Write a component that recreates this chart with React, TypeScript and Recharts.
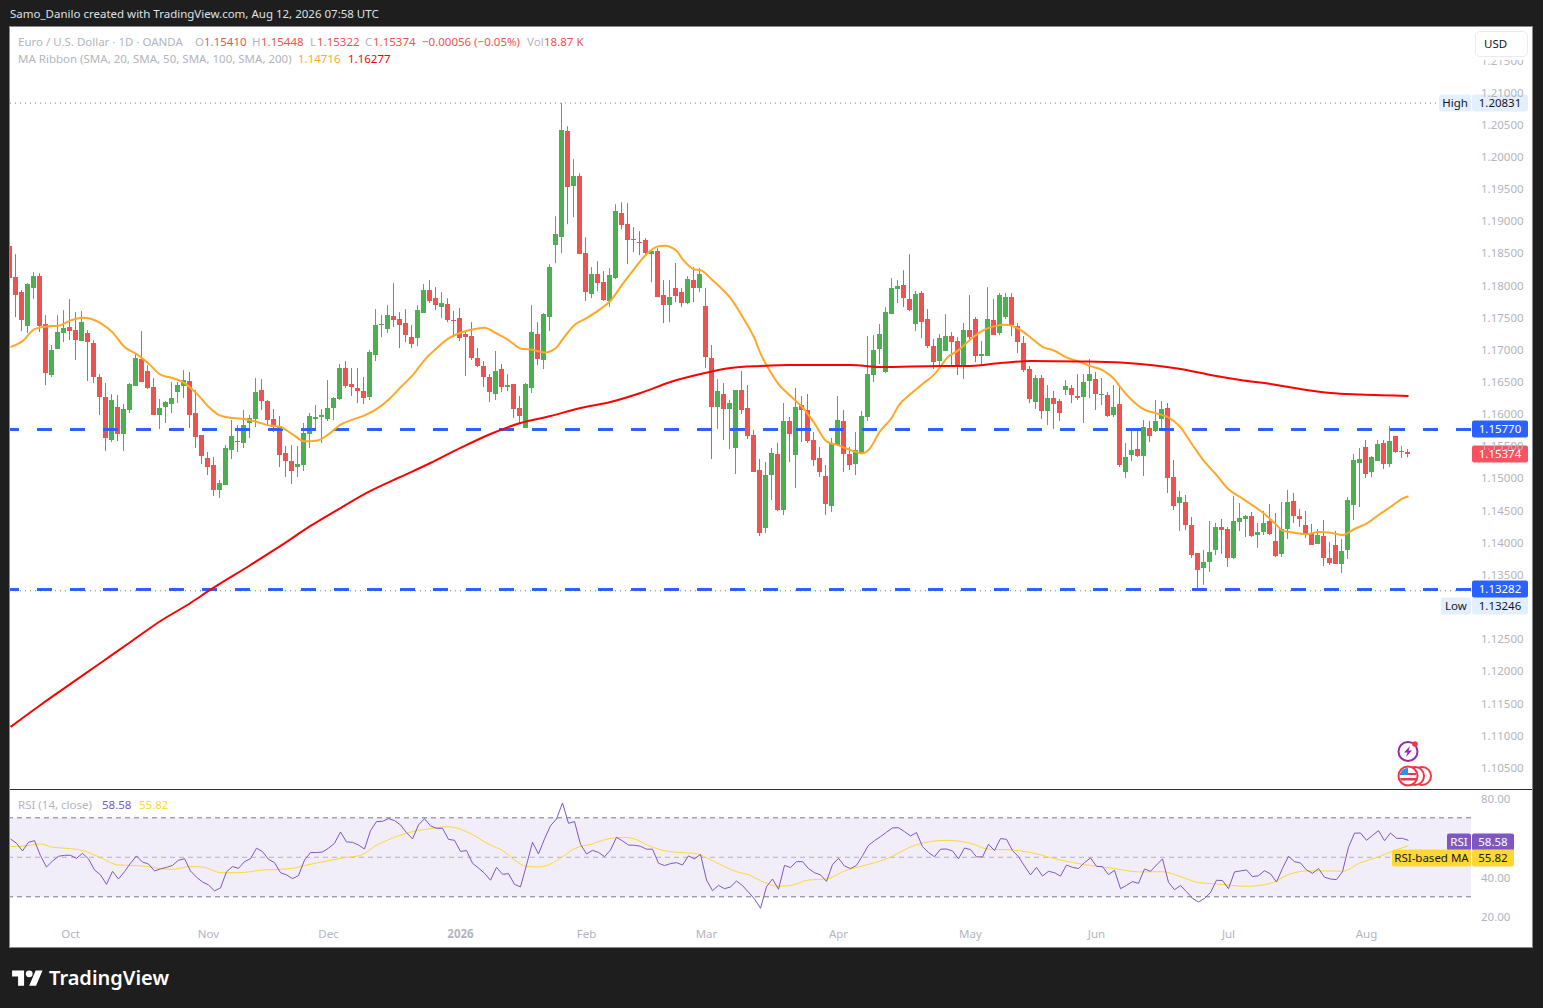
import React from "react";
import { Bar, ComposedChart, Line, ReferenceArea, ReferenceLine, XAxis, YAxis } from "recharts";

const opens = [
  1.18605, 1.18124, 1.1789, 1.17362, 1.17953, 1.18139, 1.17393, 1.16601, 1.17005, 1.17253,
  1.17347, 1.173, 1.17129, 1.17253, 1.17098, 1.1657, 1.16259, 1.15591, 1.16103, 1.15684,
  1.16057, 1.1643, 1.16849, 1.16663, 1.16414, 1.15979, 1.16103, 1.1615, 1.16336, 1.1643,
  1.16507, 1.1601, 1.15668, 1.15311, 1.15202, 1.14814, 1.14891, 1.15435, 1.15575, 1.15544,
  1.15855, 1.15917, 1.16368, 1.16197, 1.15917, 1.15808, 1.15389, 1.15264, 1.15171, 1.15202,
  1.15684, 1.15917, 1.15948, 1.15917, 1.16088, 1.16228, 1.16709, 1.16461, 1.16399, 1.16352,
  1.16259, 1.16911, 1.17378, 1.17315, 1.17517, 1.17471, 1.17409, 1.17191, 1.17176, 1.17564,
  1.17922, 1.17797, 1.17657, 1.17704, 1.17455, 1.17486, 1.17238, 1.17207, 1.16865, 1.1674,
  1.1657, 1.16305, 1.16694, 1.16414, 1.16461, 1.16088, 1.15777, 1.16399, 1.17238, 1.16834,
  1.17502, 1.18621, 1.18745, 1.20392, 1.19538, 1.19693, 1.18497, 1.17859, 1.1817, 1.18046,
  1.17751, 1.18108, 1.19118, 1.18947, 1.18714, 1.18667, 1.18699, 1.18481, 1.18528, 1.17844,
  1.17688, 1.17953, 1.1789, 1.1772, 1.18077, 1.17953, 1.17673, 1.16865, 1.16103, 1.16305,
  1.16072, 1.15466, 1.16368, 1.16088, 1.15668, 1.15124, 1.14223, 1.15047, 1.15373, 1.14503,
  1.15886, 1.15357, 1.16134, 1.16057, 1.15591, 1.15311, 1.15031, 1.14565, 1.15513, 1.15886,
  1.15373, 1.15218, 1.15389, 1.15948, 1.16601, 1.17005, 1.16647, 1.17549, 1.17937, 1.17999,
  1.17782, 1.17393, 1.17875, 1.17471, 1.17051, 1.16818, 1.16974, 1.17207, 1.17129, 1.16756,
  1.173, 1.17471, 1.16896, 1.16896, 1.17455, 1.17253, 1.17502, 1.17813, 1.17362, 1.17098,
  1.16694, 1.16181, 1.16554, 1.16041, 1.16243, 1.16197, 1.16368, 1.16399, 1.16274, 1.16259,
  1.16507, 1.16538, 1.1629, 1.1629, 1.15979, 1.1615, 1.15093, 1.15357, 1.15451, 1.15342,
  1.15777, 1.1573, 1.15917, 1.16088, 1.15016, 1.14611, 1.14627, 1.1427, 1.13834, 1.13601,
  1.13695, 1.13881, 1.14239, 1.14207, 1.13757, 1.14316, 1.14363, 1.14409, 1.14114, 1.14161,
  1.14332, 1.14021, 1.13819, 1.14207, 1.14643, 1.14409, 1.1427, 1.14145, 1.13974, 1.14099,
  1.13757, 1.13959, 1.13664, 1.13881, 1.1458, 1.15233, 1.15482, 1.15093, 1.15264, 1.15544,
  1.15218, 1.15653, 1.15404, 1.1541,
];

const highs = [
  1.1918, 1.18481, 1.17922, 1.1803, 1.18201, 1.18186, 1.17533, 1.17067, 1.17533, 1.17611,
  1.17782, 1.1758, 1.17595, 1.173, 1.17145, 1.16616, 1.16476, 1.16305, 1.1629, 1.1615,
  1.16476, 1.16943, 1.17284, 1.16756, 1.16554, 1.16228, 1.16197, 1.16492, 1.16492, 1.16678,
  1.16647, 1.16368, 1.15668, 1.15404, 1.15326, 1.14969, 1.15513, 1.15901, 1.15824, 1.16057,
  1.15979, 1.16554, 1.16538, 1.16212, 1.16072, 1.15963, 1.15497, 1.15513, 1.15497, 1.15855,
  1.1601, 1.16134, 1.16072, 1.16523, 1.16259, 1.16772, 1.16818, 1.16709, 1.16709, 1.1657,
  1.16989, 1.17626, 1.17533, 1.17688, 1.1803, 1.1758, 1.17626, 1.17378, 1.17688, 1.18015,
  1.18077, 1.17968, 1.1789, 1.17797, 1.17595, 1.17642, 1.17284, 1.17424, 1.1702, 1.16818,
  1.16616, 1.16974, 1.16772, 1.16616, 1.16461, 1.16274, 1.16476, 1.17688, 1.17424, 1.17564,
  1.18326, 1.19071, 1.20831, 1.2047, 1.19957, 1.1974, 1.18745, 1.18279, 1.18372, 1.18217,
  1.18263, 1.19258, 1.19289, 1.19274, 1.18901, 1.18838, 1.1873, 1.18543, 1.18574, 1.18077,
  1.18077, 1.18341, 1.17953, 1.18139, 1.18279, 1.18263, 1.17953, 1.17067, 1.16538, 1.16476,
  1.16212, 1.16368, 1.16663, 1.16445, 1.15746, 1.15295, 1.15249, 1.15466, 1.15544, 1.16166,
  1.15948, 1.16399, 1.16274, 1.16305, 1.15715, 1.15482, 1.15202, 1.15622, 1.16274, 1.16057,
  1.15482, 1.15715, 1.16041, 1.17207, 1.17222, 1.17393, 1.17657, 1.18108, 1.18077, 1.18232,
  1.18481, 1.17906, 1.17906, 1.17626, 1.1716, 1.17238, 1.17549, 1.17269, 1.17191, 1.17409,
  1.17844, 1.17502, 1.17129, 1.17968, 1.17782, 1.17875, 1.17875, 1.17875, 1.17409, 1.17207,
  1.1674, 1.16601, 1.16601, 1.16445, 1.16352, 1.16228, 1.16523, 1.16445, 1.16616, 1.16616,
  1.16849, 1.16647, 1.16554, 1.16336, 1.16445, 1.16445, 1.15544, 1.15777, 1.1573, 1.15901,
  1.15886, 1.16212, 1.16197, 1.16166, 1.1528, 1.14798, 1.14736, 1.14394, 1.13834, 1.13881,
  1.14332, 1.14301, 1.14363, 1.14239, 1.1472, 1.14611, 1.14425, 1.14472, 1.14301, 1.14487,
  1.14596, 1.14456, 1.14627, 1.14814, 1.14767, 1.14518, 1.14487, 1.14285, 1.14207, 1.14347,
  1.14005, 1.14176, 1.14052, 1.14705, 1.15373, 1.15466, 1.15591, 1.15342, 1.15591, 1.15591,
  1.15808, 1.15653, 1.15497, 1.15448,
];

const lows = [
  1.18077, 1.17502, 1.17284, 1.17253, 1.17782, 1.17269, 1.16445, 1.1657, 1.17005, 1.17113,
  1.17145, 1.16834, 1.17129, 1.16507, 1.16476, 1.15979, 1.1542, 1.15559, 1.15575, 1.1542,
  1.1601, 1.1643, 1.16492, 1.16383, 1.15979, 1.15761, 1.15855, 1.1601, 1.16166, 1.16243,
  1.15777, 1.15466, 1.15218, 1.15047, 1.1472, 1.14689, 1.14891, 1.15295, 1.15404, 1.15466,
  1.15622, 1.15793, 1.16057, 1.15808, 1.15715, 1.15171, 1.15016, 1.14907, 1.15016, 1.15109,
  1.15466, 1.15746, 1.15544, 1.15886, 1.15901, 1.16212, 1.16399, 1.16274, 1.16166, 1.1615,
  1.16212, 1.16818, 1.17191, 1.17253, 1.17347, 1.1702, 1.17113, 1.1702, 1.17051, 1.17564,
  1.1772, 1.17611, 1.17486, 1.17424, 1.17191, 1.17129, 1.16585, 1.16834, 1.16725, 1.16414,
  1.16181, 1.16212, 1.16336, 1.16352, 1.15932, 1.15839, 1.15777, 1.16321, 1.16756, 1.16694,
  1.17284, 1.18341, 1.18497, 1.18947, 1.19056, 1.18481, 1.17751, 1.17797, 1.17906, 1.17751,
  1.17657, 1.18092, 1.18869, 1.18326, 1.18512, 1.18465, 1.18465, 1.18046, 1.17813, 1.17409,
  1.17424, 1.17735, 1.17657, 1.17704, 1.17735, 1.1789, 1.16709, 1.15295, 1.15761, 1.15591,
  1.15451, 1.15062, 1.15995, 1.15606, 1.15093, 1.14099, 1.14145, 1.14658, 1.14487, 1.14425,
  1.15249, 1.14845, 1.15559, 1.15544, 1.15186, 1.15016, 1.14425, 1.14472, 1.15513, 1.15093,
  1.15124, 1.15047, 1.15389, 1.15886, 1.16492, 1.16772, 1.16632, 1.17549, 1.1772, 1.17657,
  1.17595, 1.17284, 1.17176, 1.1702, 1.16694, 1.16725, 1.16974, 1.16756, 1.16601, 1.16538,
  1.17129, 1.16803, 1.16756, 1.16896, 1.17222, 1.17222, 1.17471, 1.17207, 1.16943, 1.16647,
  1.16166, 1.16072, 1.15917, 1.15824, 1.15761, 1.15886, 1.1629, 1.16166, 1.16212, 1.15855,
  1.16243, 1.16057, 1.16134, 1.15948, 1.15948, 1.15171, 1.15, 1.15264, 1.15326, 1.15031,
  1.15559, 1.15715, 1.15746, 1.14767, 1.14503, 1.14176, 1.14192, 1.13757, 1.13246, 1.13337,
  1.13539, 1.13803, 1.13819, 1.13617, 1.13741, 1.14176, 1.14083, 1.14083, 1.13912, 1.14114,
  1.14114, 1.13772, 1.13772, 1.14052, 1.14301, 1.14239, 1.14068, 1.13959, 1.13974, 1.13632,
  1.13648, 1.13664, 1.13524, 1.13741, 1.14347, 1.14549, 1.15, 1.15016, 1.15264, 1.1514,
  1.15171, 1.15389, 1.15311, 1.15322,
];

const closes = [
  1.18108, 1.17844, 1.17455, 1.18015, 1.18139, 1.17362, 1.16632, 1.16989, 1.17269, 1.17331,
  1.17284, 1.17145, 1.17424, 1.17113, 1.1657, 1.16259, 1.15622, 1.16212, 1.15684, 1.16072,
  1.16461, 1.16865, 1.16492, 1.16399, 1.15979, 1.16088, 1.16181, 1.16243, 1.16445, 1.16523,
  1.15979, 1.15637, 1.15342, 1.15171, 1.14814, 1.14922, 1.15466, 1.15653, 1.15559, 1.15824,
  1.15932, 1.16336, 1.16197, 1.15901, 1.15793, 1.15357, 1.15264, 1.15109, 1.15218, 1.15699,
  1.15963, 1.15948, 1.15979, 1.16088, 1.16243, 1.16709, 1.1643, 1.16414, 1.16352, 1.16243,
  1.16958, 1.17378, 1.17393, 1.17533, 1.17455, 1.17378, 1.17222, 1.17082, 1.17611, 1.17922,
  1.17751, 1.17688, 1.1772, 1.17455, 1.1744, 1.17176, 1.17191, 1.16865, 1.1674, 1.1657,
  1.16336, 1.16663, 1.16414, 1.16445, 1.16072, 1.15963, 1.16461, 1.17269, 1.16849, 1.17549,
  1.18279, 1.18792, 1.20408, 1.19522, 1.19693, 1.18481, 1.1789, 1.1817, 1.1803, 1.17766,
  1.18155, 1.19149, 1.18932, 1.18699, 1.18699, 1.18652, 1.18497, 1.18528, 1.17813, 1.17688,
  1.17813, 1.17828, 1.1772, 1.18092, 1.17953, 1.1817, 1.1688, 1.16103, 1.16352, 1.16072,
  1.16166, 1.16368, 1.16057, 1.15653, 1.15093, 1.14145, 1.15047, 1.15389, 1.14503, 1.15886,
  1.15684, 1.16103, 1.16057, 1.15575, 1.1528, 1.15093, 1.14596, 1.15528, 1.15901, 1.15373,
  1.15202, 1.15435, 1.15963, 1.16616, 1.16989, 1.17238, 1.1758, 1.17953, 1.17984, 1.17797,
  1.17611, 1.17859, 1.17424, 1.17051, 1.16803, 1.17176, 1.17207, 1.17113, 1.1674, 1.173,
  1.17191, 1.16896, 1.16927, 1.17471, 1.17222, 1.17844, 1.17813, 1.17378, 1.17113, 1.16678,
  1.16228, 1.16554, 1.16041, 1.16243, 1.1615, 1.1601, 1.1643, 1.1629, 1.16243, 1.16492,
  1.16616, 1.16305, 1.16305, 1.15963, 1.16103, 1.15202, 1.15326, 1.15435, 1.15342, 1.15793,
  1.15653, 1.15886, 1.16072, 1.15, 1.14565, 1.14705, 1.1427, 1.13803, 1.1357, 1.13695,
  1.1385, 1.14239, 1.14192, 1.13757, 1.14332, 1.14378, 1.14409, 1.14099, 1.14161, 1.14301,
  1.1413, 1.13788, 1.14207, 1.14627, 1.14409, 1.14363, 1.14114, 1.13959, 1.14114, 1.13757,
  1.13679, 1.13664, 1.13866, 1.14658, 1.1528, 1.15295, 1.15062, 1.15326, 1.15528, 1.15218,
  1.15575, 1.15404, 1.1542, 1.15374,
];

// moving averages at these candle numbers
const ma20Days = [
  0, 2, 4, 6, 8, 10, 12, 15, 17, 19, 21, 23, 25, 27, 29, 31, 33, 35, 37, 39, 41, 43, 45, 47,
  49, 51, 53, 55, 57, 59, 61, 63, 65, 67, 69, 71, 73, 75, 77, 79, 81, 83, 85, 87, 89, 91, 92, 94,
  96, 98, 100, 102, 104, 106, 108, 109, 111, 112, 114, 115, 117, 119, 120, 122, 124, 125, 126, 128,
  130, 132, 134, 136, 138, 140, 142, 143, 145, 147, 148, 150, 152, 154, 155, 156, 158, 160, 162, 164,
  166, 168, 170, 172, 174, 176, 178, 180, 182, 184, 185, 187, 189, 191, 193, 195, 197, 199, 201, 203,
  205, 207, 209, 211, 212, 214, 216, 218, 220, 222, 224, 226, 228, 230, 232, 233,
];
const ma20Values = [
  1.17036, 1.17129, 1.17315, 1.17357, 1.17367, 1.1745, 1.17492, 1.17409, 1.17264, 1.17036, 1.16927, 1.16782,
  1.16606, 1.16554, 1.16476, 1.16316, 1.16109, 1.15969, 1.15932, 1.15917, 1.15875, 1.15818, 1.15793, 1.15679,
  1.1557, 1.1558, 1.15679, 1.15829, 1.15907, 1.15974, 1.16072, 1.16217, 1.16409, 1.16595, 1.16834, 1.17015,
  1.1717, 1.17258, 1.1731, 1.17336, 1.17248, 1.17145, 1.17015, 1.16994, 1.16953, 1.17031, 1.17155, 1.17378,
  1.17486, 1.17606, 1.17756, 1.18015, 1.18258, 1.18481, 1.18605, 1.1861, 1.18533, 1.18403, 1.18243, 1.18232,
  1.18077, 1.17901, 1.17797, 1.17507, 1.1717, 1.16937, 1.16756, 1.16461, 1.16274, 1.16098, 1.1585, 1.1557,
  1.15508, 1.15435, 1.15383, 1.15435, 1.15736, 1.15953, 1.16124, 1.16305, 1.16461, 1.16616, 1.1673, 1.1686,
  1.16989, 1.17155, 1.1729, 1.17362, 1.17383, 1.17321, 1.17186, 1.17041, 1.16979, 1.16875, 1.16813, 1.1674,
  1.16678, 1.16533, 1.16409, 1.16202, 1.16062, 1.16005, 1.15943, 1.15787, 1.15513, 1.15254, 1.15047, 1.14824,
  1.147, 1.14575, 1.14441, 1.1427, 1.14182, 1.1415, 1.14125, 1.14161, 1.1415, 1.14114, 1.14207, 1.1429,
  1.14425, 1.14549, 1.14679, 1.14716,
];
const ma200Days = [
  0, 5, 10, 15, 20, 25, 30, 33, 40, 45, 50, 55, 60, 65, 70, 75, 80, 85, 90, 95, 100, 105, 110, 115, 120,
  125, 130, 140, 145, 155, 160, 165, 170, 178, 185, 190, 195, 200, 205, 210, 215, 220, 225, 233,
];
const ma200Values = [
  1.11128, 1.1147, 1.11797, 1.12123, 1.1245, 1.12776, 1.13056, 1.13243, 1.13647, 1.13943, 1.14254, 1.14533,
  1.14798, 1.15016, 1.15233, 1.15467, 1.15684, 1.15855, 1.15964, 1.16089, 1.16182, 1.16322, 1.16493, 1.16617,
  1.16711, 1.16742, 1.16757, 1.16757, 1.16726, 1.16742, 1.16742, 1.16788, 1.16819, 1.16812, 1.16796, 1.16757,
  1.16695, 1.16602, 1.16524, 1.16462, 1.16384, 1.16322, 1.16298, 1.16277,
];

const rsi = [
  59.3, 57.1, 53.2, 57.6, 58.4, 50.8, 45.1, 48.1, 50.5, 51, 51, 49.5, 52, 49.2, 43.6, 41.1, 36.3, 42.9, 39, 42.7,
  47, 50.7, 47.6, 46.6, 43.1, 44.1, 44.9, 45.9, 48.5, 49.3, 43.1, 39.9, 37.5, 36, 33, 34.5, 42.7, 45.3, 44.4, 47.8,
  49.3, 54.6, 52.9, 49, 47.3, 42.2, 41.1, 39.2, 40.7, 48.6, 52.4, 52.4, 52.7, 54.6, 57.1, 62.8, 57.8, 57.6, 56.2, 54.2,
  63.5, 68.1, 68.2, 69.6, 68.6, 66.4, 62.5, 59.3, 66.4, 69.6, 65.9, 64.7, 64.7, 59.1, 58.6, 53, 53.4, 47, 44.6, 41.9,
  38.4, 44.9, 41.4, 41.7, 36.3, 35, 46.1, 57.6, 51.7, 59.3, 66, 69.4, 77.5, 67.2, 68.1, 56.6, 51.7, 53.5, 52.5, 50.3,
  53.7, 60.1, 58.3, 56.2, 56.1, 55.6, 54.1, 54.1, 47, 45.8, 46.8, 47.3, 46.1, 50.7, 49.2, 51.5, 38.5, 33.1, 35.8, 34.1,
  35, 38, 35.7, 32.3, 28.9, 24.2, 35.1, 39, 33.8, 45.9, 44.8, 47.8, 47.8, 44.3, 42.2, 41.1, 37.8, 46.3, 49.5, 45.6,
  44.3, 45.9, 50.8, 56.1, 58.4, 60.5, 62.7, 64.9, 65, 63, 60.8, 62.5, 55.4, 52.4, 50.3, 54.1, 54.2, 53.2, 49.2, 54.7,
  53.9, 50.2, 50.2, 56.6, 53.4, 59.5, 59.1, 53.4, 50.3, 45.6, 41.1, 44.9, 40.5, 42.9, 42.2, 40.5, 46.1, 44.9, 44.3, 47.3,
  49.7, 45.4, 45.3, 41.2, 43.4, 34.1, 35.8, 37.7, 36.8, 44.1, 42.9, 46.1, 49.2, 37.3, 33.6, 35.7, 32.6, 29.2, 27.4, 29.2,
  32.1, 38.4, 38.2, 34.1, 42.6, 43.1, 43.6, 40.2, 40.7, 43.2, 41.6, 37.5, 44.4, 50.5, 47.8, 47.1, 43.6, 41.9, 44.3, 39.9,
  39, 38.7, 42.7, 55.1, 62.2, 62.3, 58.6, 61.1, 63.5, 58.4, 62.3, 59.6, 59.6, 58.58,
];
const rsiMaDays = [
  0, 2, 5, 7, 10, 12, 15, 18, 20, 23, 25, 27, 30, 32, 33, 35, 38, 40, 42, 44, 47, 49, 53, 56, 58, 59, 61, 63, 66, 70,
  73, 76, 80, 82, 84, 85, 86, 88, 90, 92, 94, 97, 99, 102, 104, 106, 108, 111, 114, 116, 119, 121, 123, 125, 128, 130,
  133, 136, 139, 142, 146, 151, 156, 160, 163, 167, 170, 175, 179, 184, 188, 192, 195, 198, 201, 206, 210, 213, 216,
  220, 222, 225, 228, 230, 233,
];
const rsiMaValues = [
  55.4, 55.6, 56.8, 55.1, 54.4, 53.5, 49.8, 46.1, 45.9, 45.3, 44.3, 43.9, 45.3, 45.1, 44.3, 42.2, 42.2, 42.7, 43.6, 43.8,
  44.4, 45.8, 48.3, 50, 50.7, 52, 56.1, 58.9, 62.2, 64.5, 65.5, 63, 56.2, 53.4, 48.6, 46.6, 45.4, 45.1, 46.6, 50.3,
  54.4, 56.8, 58.9, 60.1, 59.3, 56.4, 54.1, 52.5, 52, 49.8, 45.3, 42.7, 41.2, 38.2, 35.3, 35.7, 38.5, 39, 43.1, 45.6,
  49.2, 56.4, 58.6, 57.1, 54.1, 53.7, 52.4, 48.6, 46.3, 44.3, 42.6, 42.7, 40.2, 37.2, 36.5, 35.3, 36.8, 41.2, 43.1,
  43.1, 42.9, 47.3, 50.2, 52.7, 55.82,
];

const priceTicks = [
  1.105, 1.11, 1.115, 1.12, 1.125, 1.135, 1.14, 1.145, 1.15, 1.155, 1.16, 1.165, 1.17, 1.175, 1.18, 1.185,
  1.19, 1.195, 1.2, 1.205, 1.21, 1.215,
];
const rsiTicks = [20, 40, 80];
const monthDays = [10, 33, 53, 75, 96, 116, 138, 160, 181, 203, 226];
const monthNames = ["Oct", "Nov", "Dec", "2026", "Feb", "Mar", "Apr", "May", "Jun", "Jul", "Aug"];

const UP = "#4caf50";
const DOWN = "#ef5350";
const GREY = "#b2b5be";
const BLUE = "#2962ff";
const FONT = '"Noto Sans", sans-serif';
const FONT_SIZE = 11.5;
const X_DOMAIN = [-0.0833, 243.4167];

const rows = opens.map((o, i) => ({
  day: i,
  o,
  h: highs[i],
  l: lows[i],
  c: closes[i],
  range: [lows[i], highs[i]],
  ma20: ma20Days.includes(i) ? ma20Values[ma20Days.indexOf(i)] : null,
  ma200: ma200Days.includes(i) ? ma200Values[ma200Days.indexOf(i)] : null,
  rsi: rsi[i],
  rsiMa: rsiMaDays.includes(i) ? rsiMaValues[rsiMaDays.indexOf(i)] : null,
}));

function Candle(props: any) {
  const { x, y, width, height, payload } = props;
  const top = Math.min(y, y + height);
  const span = Math.abs(height);
  const mid = Math.floor(x + width / 2) + 0.5;
  const toY = (v: number) => top + ((payload.h - v) / (payload.h - payload.l)) * span;
  const bodyTop = Math.round(toY(Math.max(payload.o, payload.c)));
  const bodyBottom = Math.round(toY(Math.min(payload.o, payload.c)));
  const color = payload.c >= payload.o ? UP : DOWN;
  return (
    <g>
      <rect x={mid - 0.5} y={top} width={1} height={span} fill={color} />
      <rect x={mid - 2.5} y={bodyTop} width={5} height={Math.max(1, bodyBottom - bodyTop)} fill={color} />
    </g>
  );
}

function PriceTag(props: any) {
  const { viewBox, text, fill, color, name, nameFill, nameColor, nameWidth, shift = 0, width = 56 } = props;
  const right = viewBox.x + viewBox.width;
  const cy = Math.round(viewBox.y + 0.2) + shift;
  return (
    <g style={{ fontSize: FONT_SIZE }}>
      {name && <rect x={right - nameWidth} y={cy - 8.5} width={nameWidth} height={17} rx={2} fill={nameFill || fill} />}
      {name && (
        <text x={right - nameWidth / 2} y={cy + 4} textAnchor="middle" fill={nameColor || color}>
          {name}
        </text>
      )}
      <rect x={right + 1} y={cy - 8.5} width={width} height={17} rx={2} fill={fill} />
      <text x={right + 1 + width / 2} y={cy + 4} textAnchor="middle" fill={color}>
        {text}
      </text>
    </g>
  );
}

function MonthTick(props: any) {
  const { x, y, payload } = props;
  const label = monthNames[monthDays.indexOf(payload.value)];
  return (
    <text x={x} y={y + 10} textAnchor="middle" fontSize={FONT_SIZE} fontWeight={label === "2026" ? 700 : 400} fill={GREY}>
      {label}
    </text>
  );
}

function Txt({ x, y, color = GREY, size = FONT_SIZE, weight = 400, children }: any) {
  return (
    <span
      style={{
        position: "absolute",
        left: x,
        top: y - 9,
        lineHeight: "18px",
        color,
        fontSize: size,
        fontWeight: weight,
        whiteSpace: "nowrap",
      }}
    >
      {children}
    </span>
  );
}

export default function App() {
  return (
    <div
      style={{
        position: "absolute",
        left: 0,
        top: 0,
        width: 1543,
        height: 1008,
        background: "#1e1e1e",
        overflow: "hidden",
        fontFamily: FONT,
      }}
    >
      <Txt x={10} y={14} color="#dfe1e6">
        Samo_Danilo created with TradingView.com, Aug 12, 2026 07:58 UTC
      </Txt>

      <div style={{ position: "absolute", left: 9, top: 26, width: 1522, height: 920, background: "#fff", border: "1px solid #8a8a8a", boxSizing: "content-box" }} />

      <div style={{ position: "absolute", left: 10, top: 27 }}>
        <ComposedChart width={1522} height={762} data={rows} margin={{ top: 0, right: 0, bottom: 0, left: 0 }}>
          <XAxis dataKey="day" type="number" domain={X_DOMAIN} allowDataOverflow hide />
          <YAxis
            orientation="right"
            width={61}
            type="number"
            domain={[1.10163, 1.22014]}
            allowDataOverflow
            ticks={priceTicks}
            interval={0}
            tickFormatter={(v: number) => v.toFixed(5)}
            tick={{ fill: GREY, fontSize: FONT_SIZE, dy: 0.4 }}
            tickLine={false}
            axisLine={false}
            tickMargin={4}
          />
          <ReferenceLine y={1.20831} stroke="#787b86" strokeDasharray="1 4" label={<PriceTag text="1.20831" fill="#e3effd" color="#131722" name="High" nameWidth={32} />} />
          <ReferenceLine y={1.13246} stroke="#787b86" strokeDasharray="1 4" label={<PriceTag text="1.13246" fill="#e3effd" color="#131722" name="Low" nameWidth={30} shift={15} />} />
          <ReferenceLine y={1.1577} stroke={BLUE} strokeWidth={3} strokeDasharray="15 18" style={{ transform: "translateY(1px)" }} label={<PriceTag text="1.15770" fill={BLUE} color="#fff" />} />
          <ReferenceLine y={1.13282} stroke={BLUE} strokeWidth={3} strokeDasharray="15 18" style={{ transform: "translateY(1px)" }} label={<PriceTag text="1.13282" fill={BLUE} color="#fff" />} />
          <ReferenceLine y={1.15374} stroke="none" label={<PriceTag text="1.15374" fill="#f7525f" color="#fff" />} />
          <Bar dataKey="range" barSize={5} shape={<Candle />} isAnimationActive={false} />
          <Line dataKey="ma20" stroke="#ffa726" strokeWidth={2} dot={false} connectNulls type="monotone" isAnimationActive={false} />
          <Line dataKey="ma200" stroke="#ff0000" strokeWidth={2} dot={false} connectNulls type="monotone" isAnimationActive={false} />
        </ComposedChart>
      </div>

      <div style={{ position: "absolute", left: 1472, top: 27, width: 60, height: 33, background: "#fff" }} />
      <div style={{ position: "absolute", left: 1475, top: 31, width: 53, height: 26, background: "#fff", border: "1px solid #e9ebf0", borderRadius: 5, boxSizing: "border-box" }} />
      <Txt x={1484} y={44} color="#131722">USD</Txt>

      <Txt x={18} y={42}>Euro / U.S. Dollar · 1D · OANDA</Txt>
      <Txt x={195} y={42}>O</Txt>
      <Txt x={204} y={42} color={DOWN}>1.15410</Txt>
      <Txt x={252} y={42}>H</Txt>
      <Txt x={261} y={42} color={DOWN}>1.15448</Txt>
      <Txt x={310} y={42}>L</Txt>
      <Txt x={317} y={42} color={DOWN}>1.15322</Txt>
      <Txt x={365} y={42}>C</Txt>
      <Txt x={373} y={42} color={DOWN}>1.15374</Txt>
      <Txt x={422} y={42} color={DOWN}>−0.00056 (−0.05%)</Txt>
      <Txt x={527} y={42}>Vol</Txt>
      <Txt x={544} y={42} color={DOWN}>18.87 K</Txt>
      <Txt x={18} y={59}>MA Ribbon (SMA, 20, SMA, 50, SMA, 100, SMA, 200)</Txt>
      <Txt x={298} y={59} color="#ffa726">1.14716</Txt>
      <Txt x={348} y={59} color="#ff0000">1.16277</Txt>

      <svg style={{ position: "absolute", left: 1395, top: 738 }} width={40} height={50}>
        <circle cx={13} cy={13.5} r={9.5} fill="#fff" stroke="#9c27b0" strokeWidth={2} />
        <path d="M15 8 L9 14.5 L12.5 14.5 L11 19 L17 12.5 L13.5 12.5 Z" fill="#9c27b0" />
        <circle cx={20} cy={6} r={2.8} fill="#f23645" />
        <circle cx={27} cy={38} r={9} fill="#fff" stroke="#f23645" strokeWidth={2} />
        <circle cx={20} cy={38} r={9} fill="#fff" stroke="#f23645" strokeWidth={2} />
        <circle cx={13} cy={38} r={9.5} fill="#fff" stroke="#f23645" strokeWidth={2} />
        <path d="M5 35 h16 v2 H5 Z M5 40 h16 v2.5 H6 Z" fill="#f23645" />
        <path d="M6 34 A8 8 0 0 1 13 30 V37 H5 Z" fill="#2196f3" />
      </svg>

      <div style={{ position: "absolute", left: 10, top: 789, width: 1522, height: 1, background: "#2a2e39" }} />

      <div style={{ position: "absolute", left: 10, top: 790 }}>
        <ComposedChart width={1522} height={156} data={rows} margin={{ top: 0, right: 0, bottom: 0, left: 0 }}>
          <XAxis
            dataKey="day"
            type="number"
            domain={X_DOMAIN}
            allowDataOverflow
            ticks={monthDays}
            interval={0}
            height={26}
            tick={<MonthTick />}
            tickLine={false}
            axisLine={false}
          />
          <YAxis
            orientation="right"
            width={61}
            type="number"
            domain={[18.25, 84.08]}
            allowDataOverflow
            ticks={rsiTicks}
            interval={0}
            tickFormatter={(v: number) => v.toFixed(2)}
            tick={{ fill: GREY, fontSize: FONT_SIZE, dy: 0.4 }}
            tickLine={false}
            axisLine={false}
            tickMargin={4}
          />
          <ReferenceArea y1={30} y2={70} fill="#7e57c2" fillOpacity={0.1} stroke="none" />
          <ReferenceLine y={70} stroke="#787b86" strokeDasharray="5 4" />
          <ReferenceLine y={50} stroke="#787b86" strokeOpacity={0.5} strokeDasharray="5 4" />
          <ReferenceLine y={30} stroke="#787b86" strokeDasharray="5 4" />
          <Line dataKey="rsiMa" stroke="#fdd835" strokeWidth={1} dot={false} connectNulls type="monotone" isAnimationActive={false} />
          <Line dataKey="rsi" stroke="#7e57c2" strokeWidth={1} dot={false} type="linear" isAnimationActive={false} />
          <ReferenceLine y={58.58} stroke="none" label={<PriceTag text="58.58" fill="#7e57c2" color="#fff" name="RSI" nameWidth={24} width={42} shift={1} />} />
          <ReferenceLine y={55.82} stroke="none" label={<PriceTag text="55.82" fill="#fdd835" color="#131722" name="RSI-based MA" nameWidth={79} width={42} shift={12} />} />
        </ComposedChart>
      </div>

      <div style={{ position: "absolute", left: 1472, top: 921, width: 60, height: 6, background: "#fff" }} />

      <Txt x={18} y={805}>RSI (14, close)</Txt>
      <Txt x={102} y={805} color="#7e57c2">58.58</Txt>
      <Txt x={139} y={805} color="#fdd835">55.82</Txt>

      <svg style={{ position: "absolute", left: 12, top: 967 }} width={31} height={24} viewBox="0 0 36 28" fill="#fff">
        <path d="M14 22H7V11H0V4h14v18ZM28 22h-8l7.5-18h8L28 22Z" />
        <circle cx={20} cy={8} r={4} />
      </svg>
      <Txt x={49} y={978} color="#fff" size={20} weight={600}>TradingView</Txt>
    </div>
  );
}
